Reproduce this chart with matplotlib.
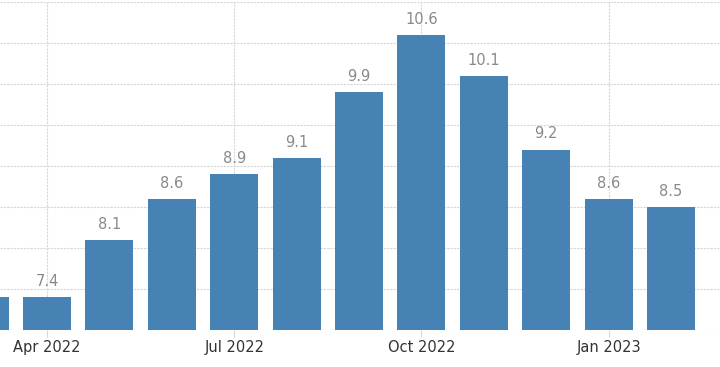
import matplotlib
matplotlib.use("Agg")
import matplotlib.pyplot as plt

months = ["Mar 2022", "Apr 2022", "May 2022", "Jun 2022", "Jul 2022", "Aug 2022",
          "Sep 2022", "Oct 2022", "Nov 2022", "Dec 2022", "Jan 2023", "Feb 2023"]
values = [7.4, 7.4, 8.1, 8.6, 8.9, 9.1, 9.9, 10.6, 10.1, 9.2, 8.6, 8.5]
tick_labels = ["Apr 2022", "Jul 2022", "Oct 2022", "Jan 2023"]

fig = plt.figure(figsize=(7.2, 3.67), dpi=100)
ax = fig.add_axes([0, 1 - 330 / 367, 1, 328 / 367])

x = list(range(-1, len(values) - 1))  # Apr 2022 at position 0
bars = ax.bar(x, values, width=0.77, color="#4682B4", zorder=3)

for xi, v, m in zip(x, values, months):
    if m == "Mar 2022":
        continue
    ax.text(xi, v + 0.1, f"{v:.1f}", ha="center", va="bottom",
            fontsize=10.5, color="#8a8a8a", zorder=4)

ax.set_ylim(7.0, 11.0)
ax.set_xlim(-0.753, 10.785)
ax.set_yticks([7.0 + 0.5 * i for i in range(9)])
ax.set_yticklabels([])
ax.tick_params(axis="y", length=0)

tick_pos = [months.index(t) - 1 for t in tick_labels]
ax.set_xticks(tick_pos)
ax.set_xticklabels(tick_labels, fontsize=10.5, color="#333333")
ax.tick_params(axis="x", length=5, color="#d8d8d8", pad=2)

ax.grid(True, axis="both", color="#d6d6d6", linestyle=(0, (2, 1)), linewidth=0.8, zorder=0)
for s in ax.spines.values():
    s.set_visible(False)

fig.savefig("out.png", dpi=100)
